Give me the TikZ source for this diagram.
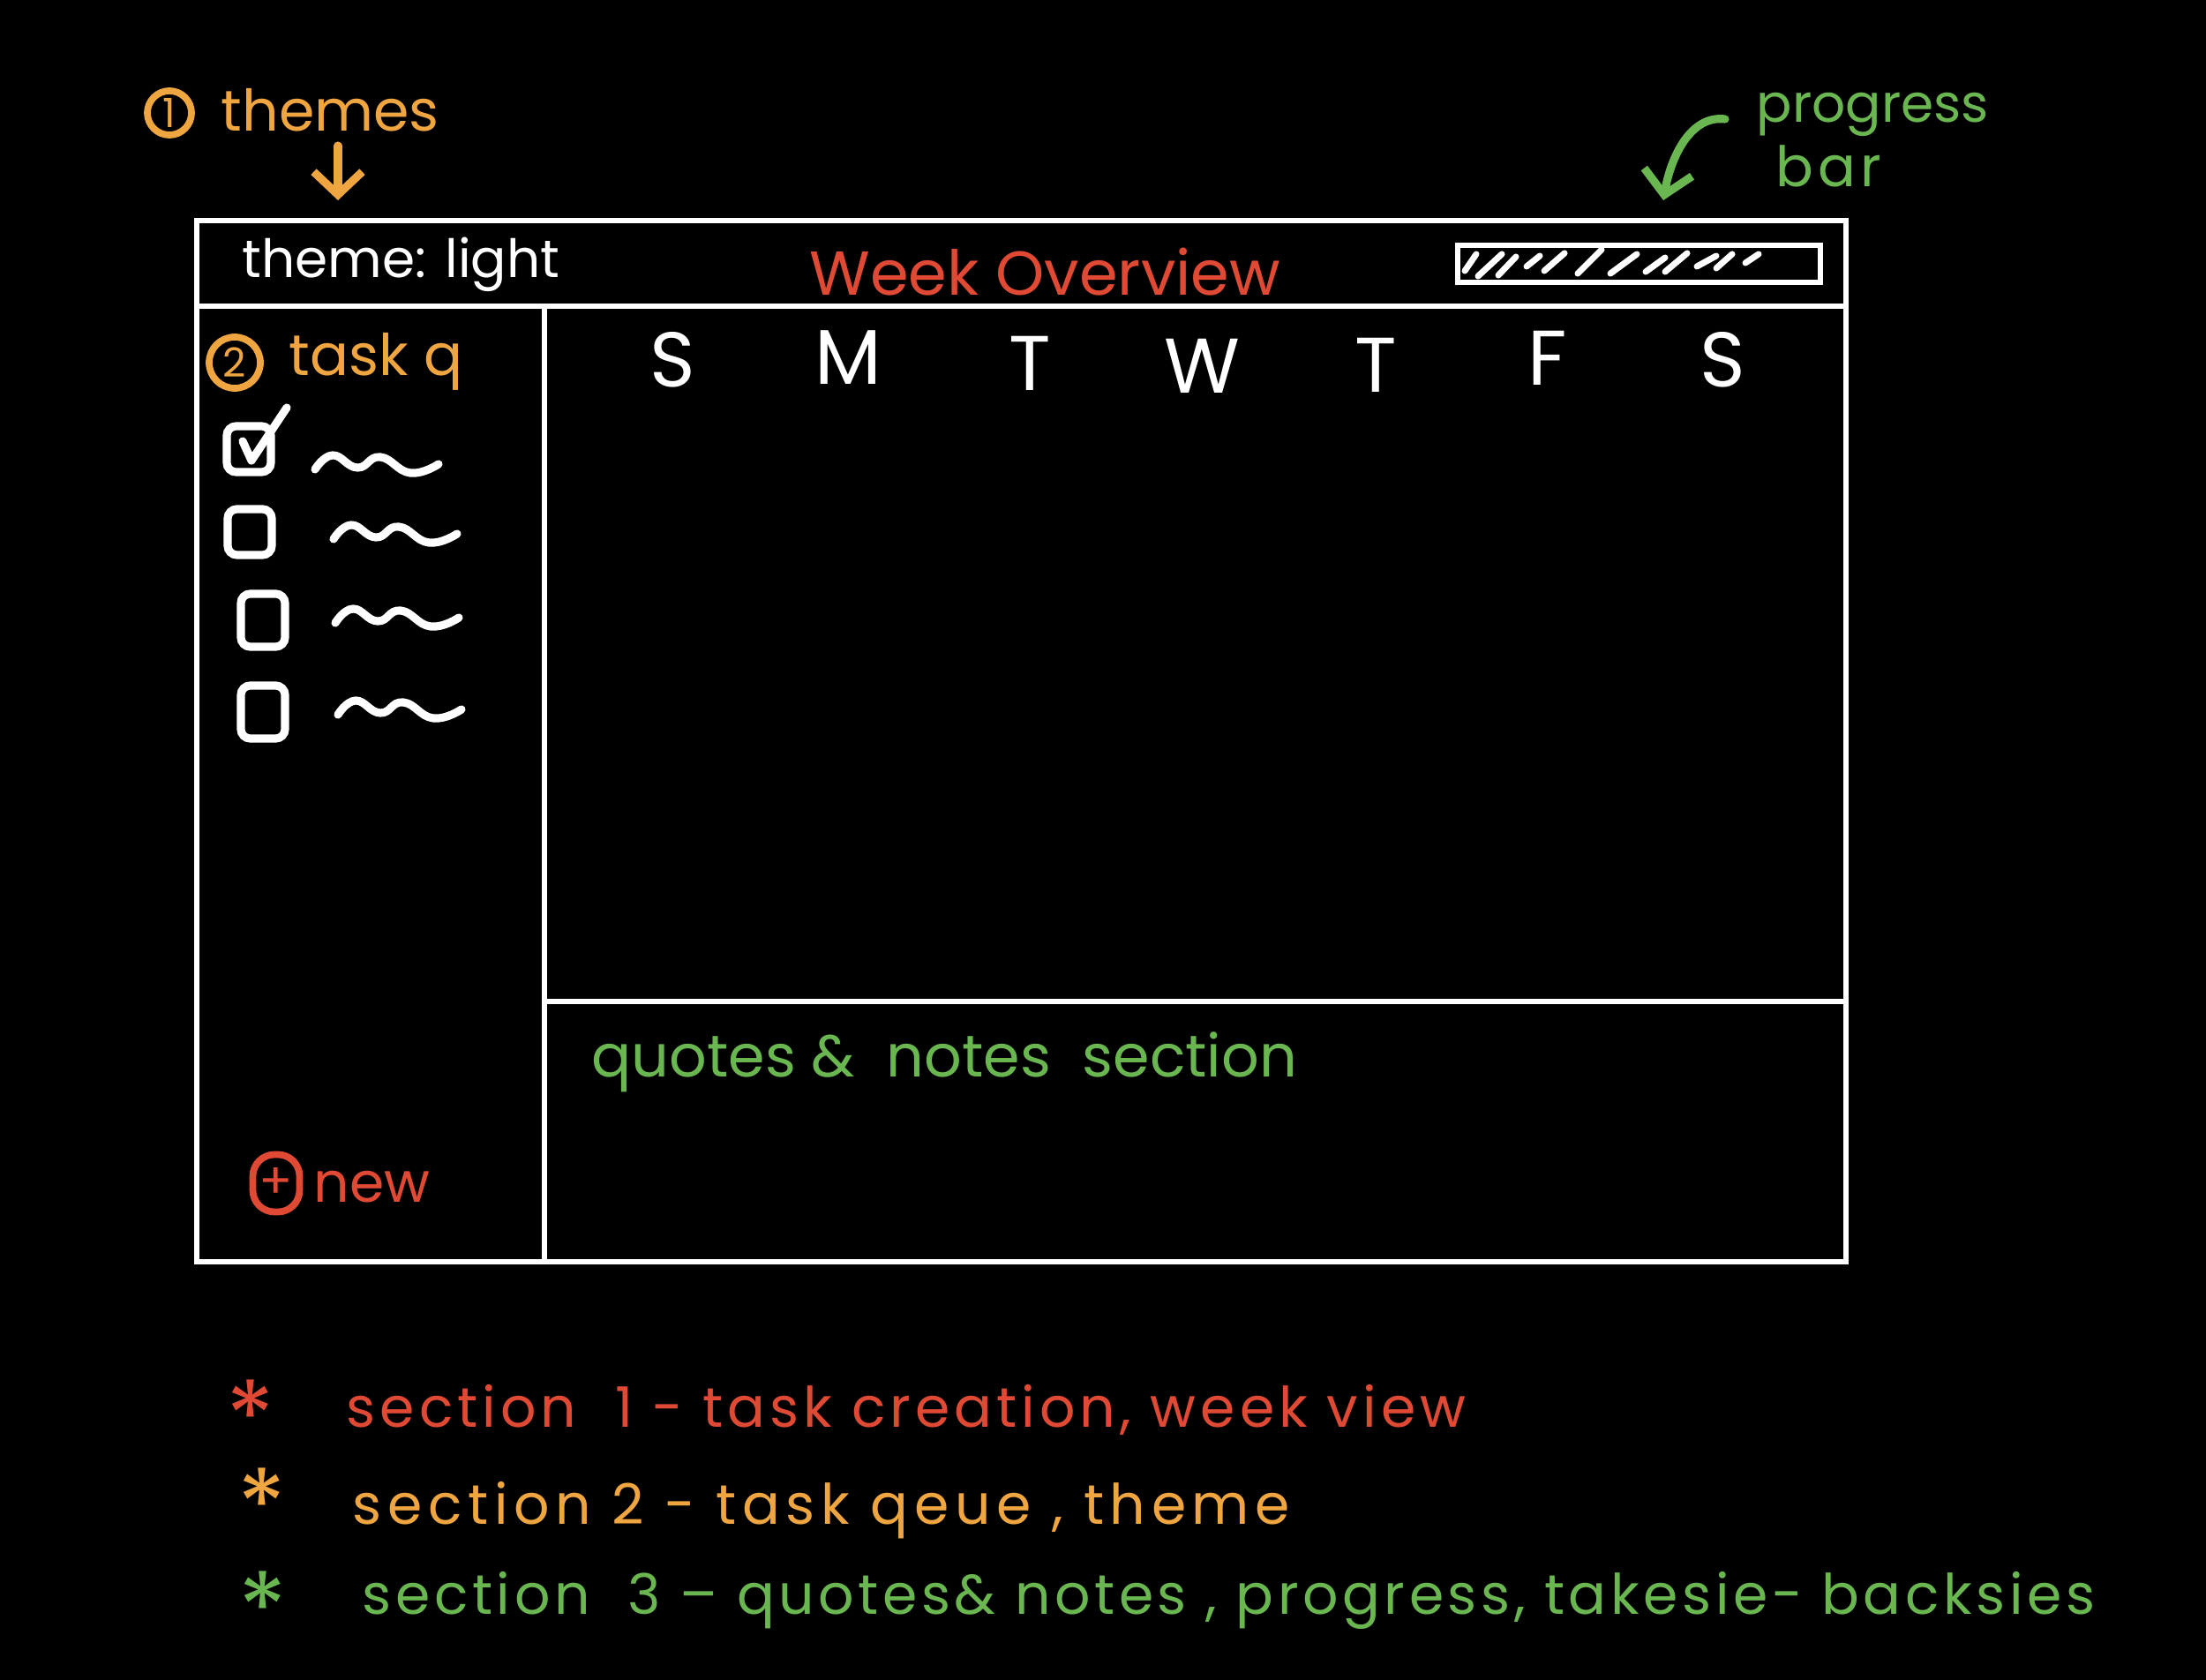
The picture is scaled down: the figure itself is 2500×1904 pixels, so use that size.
\documentclass[tikz,border=0pt]{standalone}
\usepackage{fontspec}
\setmainfont{Poppins}
\usetikzlibrary{arrows.meta,positioning}

\definecolor{inkorange}{RGB}{239,165,64}
\definecolor{inkred}{RGB}{224,74,53}
\definecolor{inkgreen}{RGB}{106,182,80}

\begin{document}
\begin{tikzpicture}[x=0.01cm, y=0.01cm,
  frame/.style = {draw=white, line width=1.8pt},
  ink/.style = {line width=2.6pt, line cap=round, line join=round},
  harrow/.style = {ink, -{Straight Barb[length=2.6mm, width=5.5mm, line width=2.6pt]}},
  txt/.style = {inner sep=0pt, anchor=west},
  legend/.style = {txt, font=\fontsize{18}{22}\selectfont\addfontfeatures{LetterSpace=#1}},
  star/.style = {inner sep=0pt, font=\fontsize{32}{34}\selectfont},
  daylbl/.style = {white, font=\fontsize{25}{28}\selectfont},
  numcirc/.style = {circle, draw, line width=2.2pt, inner sep=0pt},
  tickbox/.style = {draw=white, line width=2.6pt, rounded corners=3pt, minimum width=0.5cm, minimum height=0.52cm},
  squiggle/.pic = {\draw[white, ink] plot[smooth, tension=0.8] coordinates {(0,0) (20,16) (48,2) (74,14) (108,-4) (140,6)};}
  ]
  \useasboundingbox (0,0) rectangle (2500,-1904);
  \fill[black] (0,0) rectangle (2500,-1904);

  % window
  \draw[frame] (223,-250) rectangle (2092,-1430);
  \draw[frame] (223,-347) -- (2092,-347);
  \draw[frame] (617,-347) -- (617,-1430);
  \draw[frame] (617,-1135) -- (2092,-1135);

  % header
  \node[txt, white, font=\fontsize{17}{20}\selectfont] (themelbl) at (274,-300) {theme: light};
  \node[txt, inkred, font=\fontsize{20}{24}\selectfont] (weektitle) at (917,-308) {Week Overview};
  \draw[white, line width=1.5pt] (1652,-278) rectangle (2063,-320);
  \foreach \xa/\ya/\xb/\yb in {1660/307/1673/288, 1675/313/1702/288, 1698/312/1718/291,
      1730/302/1745/290, 1750/307/1773/287, 1788/310/1815/283, 1825/310/1855/288,
      1865/308/1887/292, 1887/308/1912/287, 1923/302/1945/290, 1945/304/1963/288,
      1978/298/1993/288}
    \draw[white, ink, line width=2pt] (\xa,-\ya) -- (\xb,-\yb);

  % annotations on top
  \node[numcirc, inkorange, minimum size=0.5cm, font=\fontsize{13}{14}\selectfont] (circone) at (192,-128) {1};
  \node[txt, inkorange, font=\fontsize{18.5}{22}\selectfont] (themes) at (250,-125) {themes};
  \coordinate (themestip) at (383,-227);
  \draw[harrow, inkorange] ([yshift=-0.15cm]themes.south -| themestip) -- (themestip);

  \node[txt, inkgreen, font=\fontsize{17}{20}\selectfont] (progress) at (1990,-130) {progress};
  \node[txt, inkgreen, font=\fontsize{18}{20}\selectfont\addfontfeatures{LetterSpace=8}] (barlbl) at (2012,-188) {bar};
  \coordinate (bartip) at (1885,-227);
  \draw[harrow, inkgreen] ([xshift=-0.35cm, yshift=-0.05cm]progress.west) .. controls (1915,-130) and (1893,-180) .. (bartip);

  % week days
  \foreach \day/\xpos/\ypos [count=\i] in {S/762/408, M/961/405, T/1167/412, W/1362/415, T/1559/414, F/1754/406, S/1952/408}
    \node[daylbl] (day\i) at (\xpos,-\ypos) {\day};

  % task queue
  \node[numcirc, inkorange, minimum size=0.58cm, font=\fontsize{13}{14}\selectfont] (circtwo) at (266,-411) {2};
  \node[txt, inkorange, font=\fontsize{18.5}{22}\selectfont] (taskq) at (327,-410) {task q};

  \node[tickbox] (box1) at (282,-509) {};
  \node[tickbox] (box2) at (283,-603) {};
  \node[tickbox, minimum height=0.6cm] (box3) at (298,-703) {};
  \node[tickbox, minimum height=0.6cm] (box4) at (298,-807) {};
  \draw[white, ink] ([shift={(-7,9)}]box1.center) -- ([shift={(3,-13)}]box1.center) -- ([shift={(43,47)}]box1.center);

  \pic at (357,-532) {squiggle};
  \pic at (378,-611) {squiggle};
  \pic at (380,-706) {squiggle};
  \pic at (383,-810) {squiggle};

  \node[inkred, draw, line width=2.2pt, rounded corners=7pt, minimum width=0.53cm, minimum height=0.65cm, inner sep=0pt, font=\fontsize{16}{18}\selectfont] (plusbox) at (313,-1341) {+};
  \node[txt, inkred, font=\fontsize{18}{22}\selectfont] (newlbl) at (355,-1345) {new};

  % notes
  \node[txt, inkgreen, font=\fontsize{19}{23}\selectfont] (quotes) at (670,-1204) {quotes \& \ notes \ section};

  % legend
  \node[star, inkred] (starone) at (284,-1605) {*};
  \node[legend=8, inkred] (secone) at (392,-1598) {section \ 1 - task creation, week view};
  \node[star, inkorange] (startwo) at (297,-1705) {*};
  \node[legend=10.5, inkorange] (sectwo) at (399,-1712) {section 2 - task qeue , theme};
  \node[star, inkgreen] (starthree) at (298,-1822) {*};
  \node[legend=7.3, inkgreen] (secthree) at (410,-1814) {section \ 3 -- quotes\& notes , progress, takesie- backsies};
\end{tikzpicture}
\end{document}
